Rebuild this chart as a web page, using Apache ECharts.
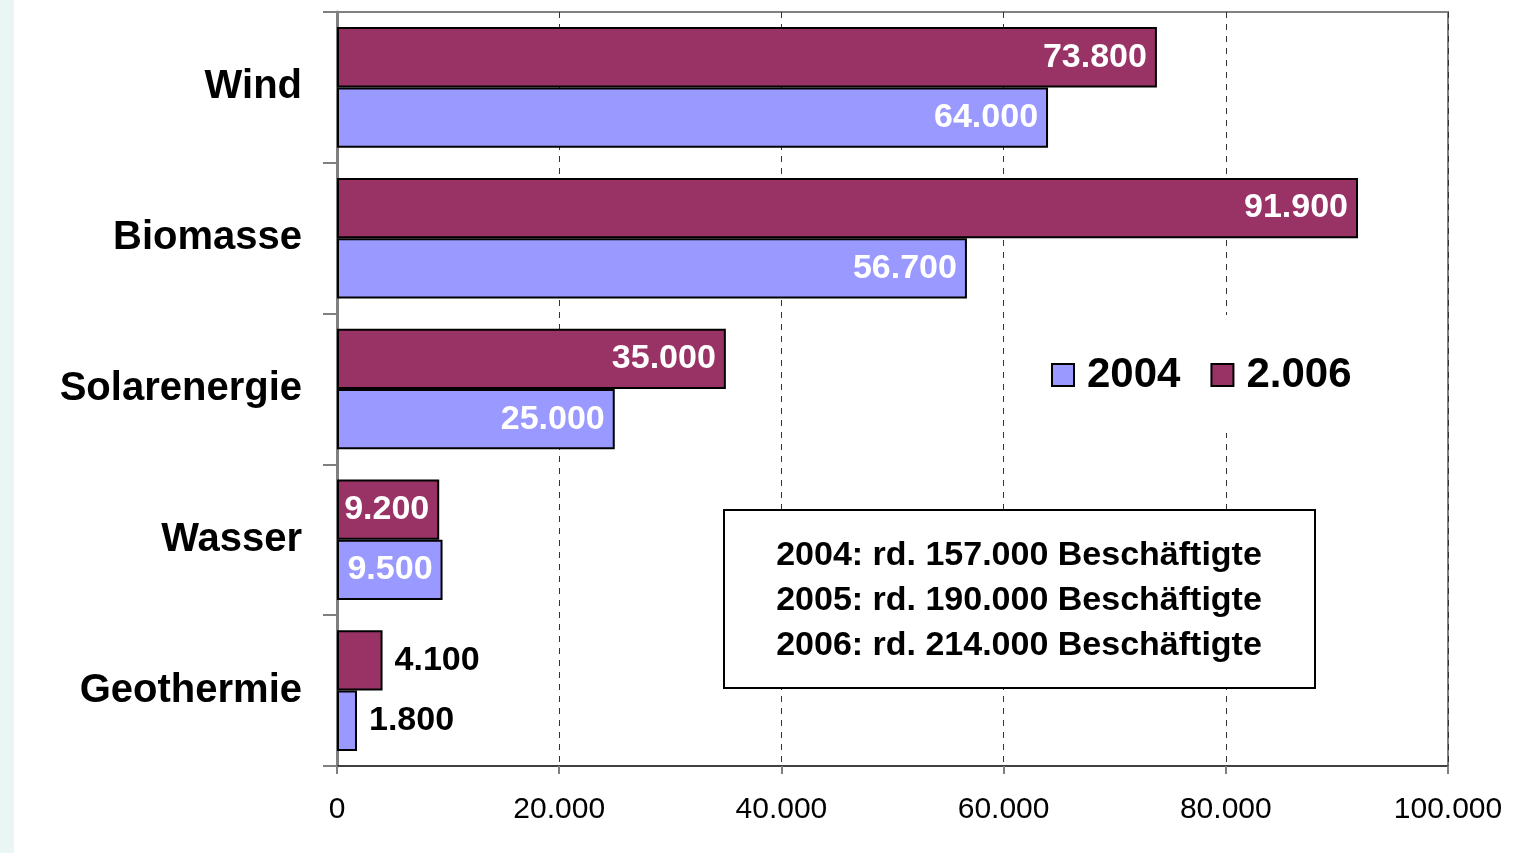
<!DOCTYPE html>
<html><head><meta charset="utf-8">
<script src="https://cdn.jsdelivr.net/npm/echarts@6/dist/echarts.min.js"></script>
<style>html,body{margin:0;padding:0;background:#fff}#c{width:1540px;height:853px}</style>
</head><body><div id="c"></div>
<script>
const categories = ['Wind', 'Biomasse', 'Solarenergie', 'Wasser', 'Geothermie'];
const values2004 = [64000, 56700, 25000, 9500, 1800];
const values2006 = [73800, 91900, 35000, 9200, 4100];
const seriesNames = ['2004', '2.006'];
const xTicks = [0, 20000, 40000, 60000, 80000, 100000];
const infoLines = ['2004: rd. 157.000 Beschäftigte', '2005: rd. 190.000 Beschäftigte', '2006: rd. 214.000 Beschäftigte'];
const outsideLabelCats = ['Geothermie'];

function fmt(v) { return String(Math.round(v)).replace(/\B(?=(\d{3})+(?!\d))/g, '.'); }
const FONT = '"Liberation Sans", Arial, sans-serif';

function mkData(vals) {
  return vals.map((v, i) => {
    const d = { value: v };
    if (outsideLabelCats.includes(categories[i])) {
      d.label = { position: 'right', distance: 12, color: '#000' };
    }
    return d;
  });
}

const chart = echarts.init(document.getElementById('c'), null, { renderer: 'canvas' });
const labelBase = { show: true, position: 'insideRight', distance: 10, color: '#fff', fontFamily: FONT, fontWeight: 'bold', fontSize: 34, padding: [4, 0, 0, 0], formatter: p => fmt(p.value) };
chart.setOption({
  animation: false,
  backgroundColor: '#fff',
  textStyle: { fontFamily: FONT },
  grid: { left: 337, right: 92, top: 12, bottom: 87, show: true, borderColor: '#808080', borderWidth: 2, backgroundColor: 'transparent' },
  legend: {
    data: seriesNames, left: 1041, top: 315, itemWidth: 22, itemHeight: 22, itemGap: 30,
    backgroundColor: '#fff', padding: [38, 10, 36, 10], z: 20,
    textStyle: { fontFamily: FONT, fontWeight: 'bold', fontSize: 42, lineHeight: 44, color: '#000', padding: [0, 0, 0, 8] },
    icon: 'rect'
  },
  xAxis: {
    type: 'value', min: xTicks[0], max: xTicks[xTicks.length - 1], interval: 20000,
    axisLine: { show: true, lineStyle: { color: '#404040', width: 2 } },
    axisTick: { show: true, length: 8, lineStyle: { color: '#808080', width: 2 } },
    axisLabel: { margin: 29, fontSize: 30, color: '#000', fontFamily: FONT, formatter: v => fmt(v) },
    splitLine: { show: true, lineStyle: { color: '#333', type: [6, 6], width: 1 } }
  },
  yAxis: {
    type: 'category', data: categories, inverse: true,
    axisLine: { show: true, lineStyle: { color: '#808080', width: 3 } },
    axisTick: { show: true, length: 14, lineStyle: { color: '#808080', width: 2 } },
    axisLabel: { margin: 35, fontSize: 40, fontWeight: 'bold', color: '#000', fontFamily: FONT, padding: [6, 0, 0, 0] },
    splitLine: { show: false }
  },
  series: [
    { name: '2.006', type: 'bar', data: mkData(values2006), barGap: '0%', barCategoryGap: '20%',
      itemStyle: { color: '#993366', borderColor: '#000', borderWidth: 2 }, label: labelBase },
    { name: '2004', type: 'bar', data: mkData(values2004), barGap: '0%', barCategoryGap: '20%',
      itemStyle: { color: '#9999FF', borderColor: '#000', borderWidth: 2 }, label: labelBase }
  ],
  graphic: [
    { type: 'rect', left: 0, top: 0, z: 100, shape: { width: 14, height: 853 }, style: { fill: '#EAF6F3' }, silent: true },
    { type: 'group', left: 723, top: 509, z: 100, children: [
      { type: 'rect', z: 100, shape: { x: 0, y: 0, width: 591, height: 178 }, style: { fill: '#fff', stroke: '#000', lineWidth: 2 } },
      { type: 'text', z: 101, x: 295, y: 91, style: { text: infoLines.join('\n'), fill: '#000', font: 'bold 34px ' + FONT, align: 'center', verticalAlign: 'middle', lineHeight: 45 } }
    ]}
  ]
});
</script></body></html>
